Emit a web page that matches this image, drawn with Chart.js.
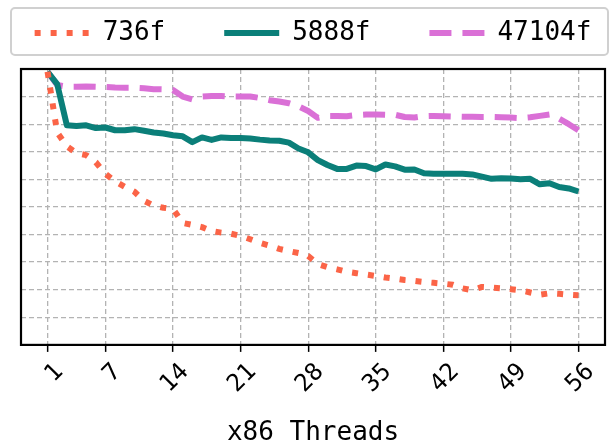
<!DOCTYPE html>
<html>
<head>
<meta charset="utf-8">
<script src="https://cdn.jsdelivr.net/npm/chart.js@4.4.1/dist/chart.umd.min.js"></script>
<style>
  html, body { margin: 0; padding: 0; background: #fff; }
  #wrap { width: 610px; height: 440px; }
</style>
</head>
<body>
<div id="wrap"><canvas id="chart"></canvas></div>
<script>
const threads = [1, 2, 3, 4, 5, 6, 7, 8, 9, 10, 11, 12, 13, 14, 15, 16, 17, 18, 19, 20,
  21, 22, 23, 24, 25, 26, 27, 28, 29, 30, 31, 32, 33, 34, 35, 36, 37, 38, 39, 40,
  41, 42, 43, 44, 45, 46, 47, 48, 49, 50, 51, 52, 53, 54, 55, 56];
const xTicks = [1, 7, 14, 21, 28, 35, 42, 49, 56];
const seriesNames = ["736f", "5888f", "47104f"];

const s736 = [9.9, 7.7, 7.2, 6.95, 6.88, 6.62, 6.2, 5.93, 5.73, 5.55,
  5.22, 5.05, 4.97, 4.93, 4.42, 4.35, 4.27, 4.13, 4.07, 4.03,
  3.95, 3.83, 3.7, 3.6, 3.48, 3.4, 3.33, 3.22, 2.93, 2.82,
  2.74, 2.65, 2.6, 2.55, 2.5, 2.44, 2.4, 2.35, 2.32, 2.28,
  2.25, 2.22, 2.18, 2.05, 1.98, 2.1, 2.08, 2.05, 2.02, 1.98,
  1.9, 1.82, 1.87, 1.85, 1.82, 1.8];
const s5888 = [9.9, 9.45, 7.96, 7.93, 7.96, 7.86, 7.88, 7.78, 7.78, 7.82,
  7.76, 7.7, 7.66, 7.6, 7.56, 7.35, 7.52, 7.43, 7.52, 7.5,
  7.5, 7.48, 7.44, 7.41, 7.4, 7.33, 7.12, 6.98, 6.7, 6.52,
  6.38, 6.38, 6.5, 6.48, 6.36, 6.54, 6.47, 6.35, 6.36, 6.22,
  6.2, 6.2, 6.2, 6.2, 6.18, 6.1, 6.02, 6.04, 6.03, 6.0,
  6.02, 5.82, 5.86, 5.72, 5.67, 5.56];
const s47104 = [9.9, 9.42, 9.36, 9.36, 9.37, 9.36, 9.35, 9.33, 9.32, 9.32,
  9.3, 9.27, 9.26, 9.24, 9.0, 8.9, 9.0, 9.02, 9.02, 9.0,
  9.0, 9.0, 8.95, 8.87, 8.82, 8.76, 8.65, 8.48, 8.23, 8.3,
  8.3, 8.29, 8.33, 8.35, 8.35, 8.34, 8.34, 8.26, 8.24, 8.29,
  8.3, 8.29, 8.28, 8.27, 8.27, 8.26, 8.26, 8.25, 8.24, 8.22,
  8.25, 8.3, 8.35, 8.2, 8.0, 7.78];

const mono = "'DejaVu Sans Mono', monospace";

function points(values) {
  return threads.map((t, i) => ({ x: t, y: values[i] }));
}

// plot frame + legend frame, like matplotlib draws them
const framePlugin = {
  id: "frame",
  afterInit(chart) {
    // leave a gap under the legend box
    const legend = chart.legend;
    const fit = legend.fit.bind(legend);
    legend.fit = function () {
      fit();
      this.height += 13;
    };
  },
  beforeDraw(chart) {
    const ctx = chart.ctx;
    const lg = chart.legend;
    ctx.save();
    ctx.strokeStyle = "#d0d0d0";
    ctx.lineWidth = 2;
    ctx.beginPath();
    ctx.roundRect(11, lg.top, chart.width - 13, lg.height - 14, 4);
    ctx.stroke();
    ctx.restore();
  },
  afterDraw(chart) {
    const { ctx, chartArea: a } = chart;
    ctx.save();
    ctx.strokeStyle = "#000";
    ctx.lineWidth = 2.2;
    ctx.strokeRect(a.left, a.top, a.right - a.left, a.bottom - a.top);
    ctx.restore();
  }
};

const datasets = [
  { label: seriesNames[0], data: points(s736), borderColor: "#fb6447", borderWidth: 6, borderDash: [6, 10] },
  { label: seriesNames[1], data: points(s5888), borderColor: "#0b7f79", borderWidth: 6, borderDash: [] },
  { label: seriesNames[2], data: points(s47104), borderColor: "#da70d6", borderWidth: 6, borderDash: [22, 11] }
];

new Chart(document.getElementById("chart"), {
  type: "line",
  data: { datasets },
  options: {
    responsive: true,
    maintainAspectRatio: false,
    devicePixelRatio: 1,
    animation: false,
    layout: { padding: { left: 21, right: 5, top: 8, bottom: 0 } },
    elements: {
      point: { radius: 0 },
      line: { tension: 0, borderCapStyle: "butt", borderJoinStyle: "round", fill: false }
    },
    plugins: {
      tooltip: { enabled: false },
      legend: {
        position: "top",
        labels: {
          usePointStyle: true,
          pointStyleWidth: 55,
          padding: 12,
          color: "#000",
          font: { family: mono, size: 26 },
          generateLabels(chart) {
            return chart.data.datasets.map((ds, i) => ({
              // trailing spaces widen the gap between entries
              text: i < 2 ? ds.label + "   " : ds.label,
              fillStyle: ds.borderColor,
              strokeStyle: ds.borderColor,
              lineWidth: ds.borderWidth,
              lineDash: ds.borderDash,
              lineCap: "butt",
              pointStyle: "line",
              fontColor: "#000",
              hidden: false,
              datasetIndex: i
            }));
          }
        }
      }
    },
    scales: {
      x: {
        type: "linear",
        min: -1.75,
        max: 58.75,
        afterBuildTicks(scale) {
          scale.ticks = xTicks.map(v => ({ value: v }));
        },
        ticks: {
          autoSkip: false,
          minRotation: 45,
          maxRotation: 45,
          padding: 6,
          labelOffset: 12,
          color: "#000",
          font: { family: mono, size: 24 }
        },
        grid: {
          color: "#b3b3b3",
          lineWidth: 1.3,
          tickLength: 7,
          tickColor: "#000",
          tickWidth: 1.5,
          tickBorderDash: []
        },
        border: { display: false, dash: [5, 3] },
        title: {
          display: true,
          text: "x86 Threads",
          color: "#000",
          font: { family: mono, size: 26, lineHeight: 0.55 },
          padding: { top: 21, bottom: 0 }
        }
      },
      y: {
        min: 0,
        max: 10,
        ticks: { display: false, stepSize: 1 },
        grid: { color: "#b3b3b3", lineWidth: 1.3, drawTicks: false },
        border: { display: false, dash: [5, 3] }
      }
    }
  },
  plugins: [framePlugin]
});
</script>
</body>
</html>
